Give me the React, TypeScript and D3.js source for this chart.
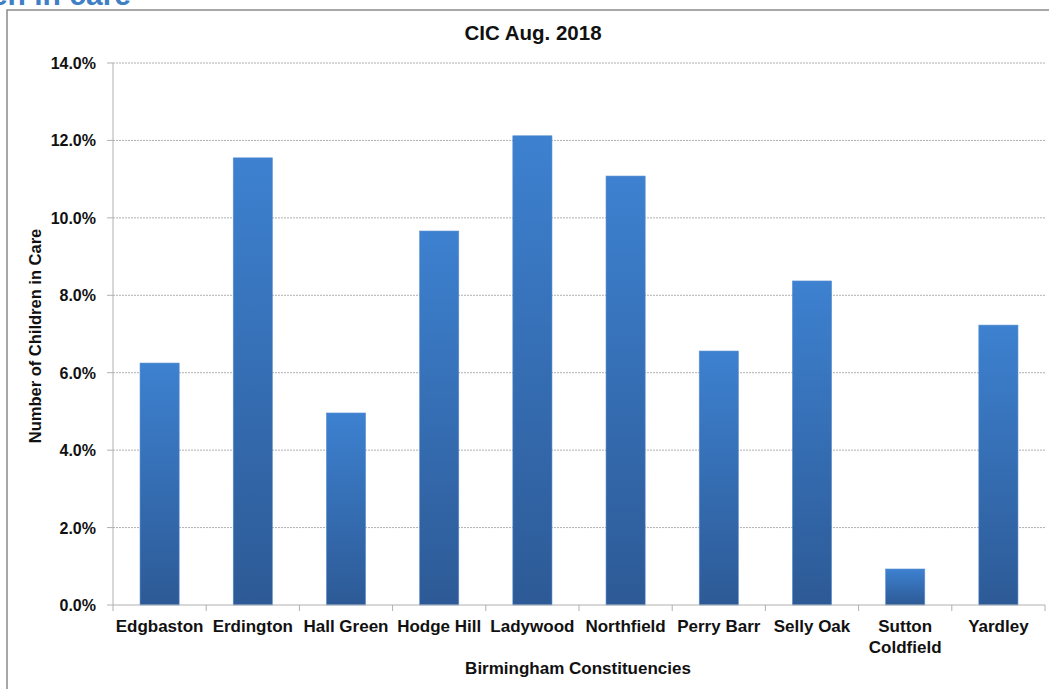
import React from "react";
import * as d3 from "d3";

const categories = ["Edgbaston", "Erdington", "Hall Green", "Hodge Hill", "Ladywood", "Northfield", "Perry Barr", "Selly Oak", "Sutton Coldfield", "Yardley"];
const values = [6.25, 11.55, 4.96, 9.66, 12.12, 11.08, 6.56, 8.37, 0.93, 7.23];
const yTicks = [0, 2, 4, 6, 8, 10, 12, 14];

const W = 1049, H = 689;
const left = 113, right = 1045, top = 63, bottom = 605;
const font = "'Liberation Sans', Arial, sans-serif";

export default function App() {
  const x = d3.scaleBand<string>().domain(categories).range([left, right]).paddingInner(0).paddingOuter(0);
  const y = d3.scaleLinear().domain([0, 14]).range([bottom, top]);
  const bw = x.bandwidth() * 0.42;
  return (
    <svg width={W} height={H} style={{ position: "absolute", left: 0, top: 0, background: "#fff" }} fontFamily={font}>
      <defs>
        <linearGradient id="barG" x1="0" y1="0" x2="0" y2="1">
          <stop offset="0" stopColor="#3d81d0" />
          <stop offset="1" stopColor="#2d5a96" />
        </linearGradient>
      </defs>
      <text x={131} y={5} textAnchor="end" fontSize={30} fontWeight="bold" fill="#3f7fc6">Children in care</text>
      <rect x={7} y={10} width={1060} height={700} fill="none" stroke="#8a8a8a" strokeWidth={1.5} />
      <text x={533} y={40} textAnchor="middle" fontSize={20.5} fontWeight="bold" fill="#111">CIC Aug. 2018</text>
      {yTicks.map((t) => (
        <g key={t}>
          {t > 0 && <line x1={left} x2={right} y1={y(t)} y2={y(t)} stroke="#b0b0b0" strokeDasharray="2,1" />}
          <line x1={left - 6} x2={left} y1={y(t)} y2={y(t)} stroke="#b0b0b0" />
          <text x={96} y={y(t) + 6} textAnchor="end" fontSize={16} fontWeight="bold" fill="#111">{t.toFixed(1)}%</text>
        </g>
      ))}
      <line x1={left} x2={left} y1={top} y2={bottom} stroke="#b0b0b0" />
      {categories.map((c, i) => {
        const cx = x(c)! + x.bandwidth() / 2;
        return (
          <rect key={c} x={cx - bw / 2} y={y(values[i])} width={bw} height={bottom - y(values[i])} fill="url(#barG)" stroke="#5b8fd0" strokeWidth={0.6} />
        );
      })}
      <line x1={left} x2={right} y1={bottom} y2={bottom} stroke="#b0b0b0" />
      {categories.map((c) => (
        <line key={c} x1={x(c)!} x2={x(c)!} y1={bottom} y2={bottom + 6} stroke="#b0b0b0" />
      ))}
      <line x1={right} x2={right} y1={bottom} y2={bottom + 6} stroke="#b0b0b0" />
      {categories.map((c) => {
        const cx = x(c)! + x.bandwidth() / 2;
        const parts = c === "Sutton Coldfield" ? ["Sutton", "Coldfield"] : [c];
        return (
          <text key={c} x={cx} y={632} textAnchor="middle" fontSize={17} fontWeight="bold" fill="#111">
            {parts.map((p, j) => (
              <tspan key={p} x={cx} dy={j === 0 ? 0 : 21}>{p}</tspan>
            ))}
          </text>
        );
      })}
      <text x={578} y={674} textAnchor="middle" fontSize={17} fontWeight="bold" fill="#111">Birmingham Constituencies</text>
      <text transform={`translate(41,336) rotate(-90)`} textAnchor="middle" fontSize={16.5} fontWeight="bold" fill="#111">Number of Children in Care</text>
    </svg>
  );
}
